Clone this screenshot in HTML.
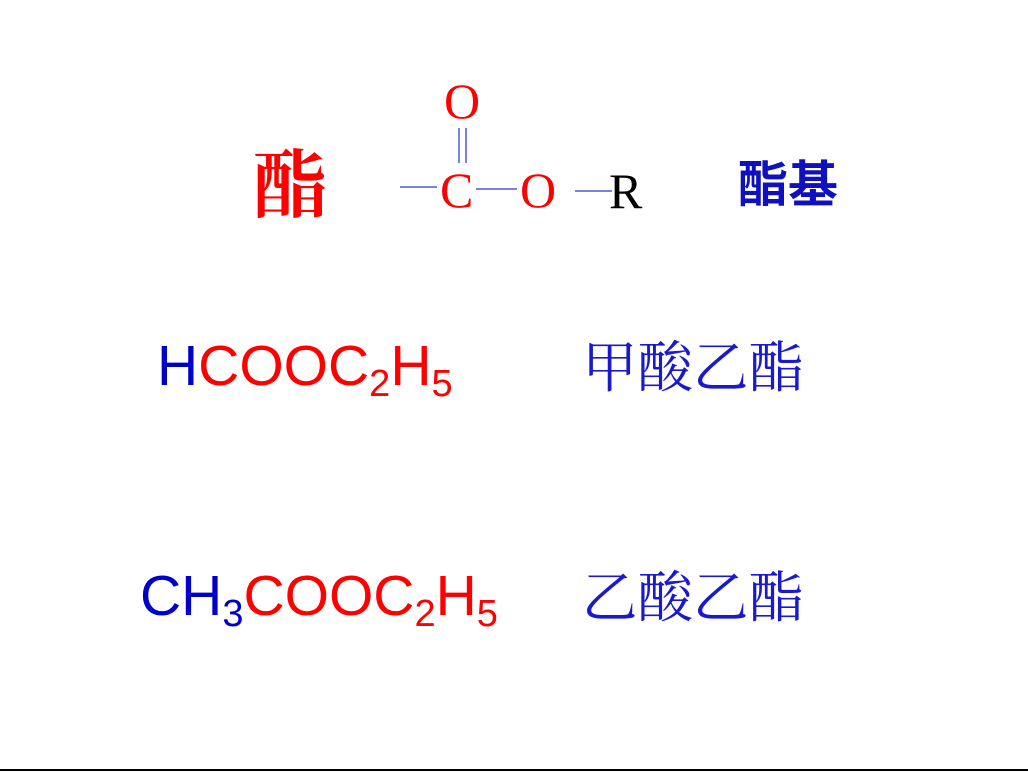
<!DOCTYPE html>
<html><head><meta charset="utf-8"><style>
html,body{margin:0;padding:0;background:#fff;width:1028px;height:773px;overflow:hidden}
</style></head><body>
<svg width="1028" height="773" xmlns="http://www.w3.org/2000/svg">
<rect width="1028" height="773" fill="#fff"/>
<text x="253" y="211" font-family="Noto Serif CJK SC, serif" font-weight="bold" font-size="74" fill="#ff0000">酯</text>
<text x="444" y="118" font-family="Liberation Serif, serif" font-size="50" fill="#ff0000">O</text>
<line x1="459" y1="128" x2="459" y2="163" stroke="#4a5ad0" stroke-width="1.5"/>
<line x1="466" y1="128" x2="466" y2="163" stroke="#4a5ad0" stroke-width="1.5"/>
<line x1="400" y1="187" x2="437" y2="187" stroke="#4a5ad0" stroke-width="1.5"/>
<text x="440" y="207" font-family="Liberation Serif, serif" font-size="50" fill="#ff0000">C</text>
<line x1="476" y1="189" x2="517" y2="189" stroke="#4a5ad0" stroke-width="1.5"/>
<text x="520" y="207" font-family="Liberation Serif, serif" font-size="50" fill="#ff0000">O</text>
<line x1="575" y1="191" x2="612" y2="191" stroke="#4a5ad0" stroke-width="1.5"/>
<text x="609" y="208" font-family="Liberation Serif, serif" font-size="50" fill="#000">R</text>
<text x="738" y="202" font-family="Noto Sans CJK SC, sans-serif" font-weight="bold" font-size="50" fill="#1010c0">酯基</text>

<text x="157" y="385" font-family="Liberation Sans, sans-serif" font-size="57"><tspan fill="#0000c8">H</tspan><tspan fill="#ff0000">COOC</tspan><tspan fill="#ff0000" font-size="38" dy="11">2</tspan><tspan fill="#ff0000" dy="-11">H</tspan><tspan fill="#ff0000" font-size="38" dy="11">5</tspan></text>
<text x="582" y="387" font-family="Noto Serif CJK SC, serif" font-size="55.5" fill="#1a1acc">甲酸乙酯</text>

<text x="140" y="615" font-family="Liberation Sans, sans-serif" font-size="57"><tspan fill="#0000c8">CH</tspan><tspan fill="#0000c8" font-size="38" dy="11">3</tspan><tspan fill="#ff0000" dy="-11">COOC</tspan><tspan fill="#ff0000" font-size="38" dy="11">2</tspan><tspan fill="#ff0000" dy="-11">H</tspan><tspan fill="#ff0000" font-size="38" dy="11">5</tspan></text>
<text x="582" y="617" font-family="Noto Serif CJK SC, serif" font-size="55.5" fill="#1a1acc">乙酸乙酯</text>

<rect x="0" y="769" width="1028" height="2" fill="#000"/>
</svg>
</body></html>
